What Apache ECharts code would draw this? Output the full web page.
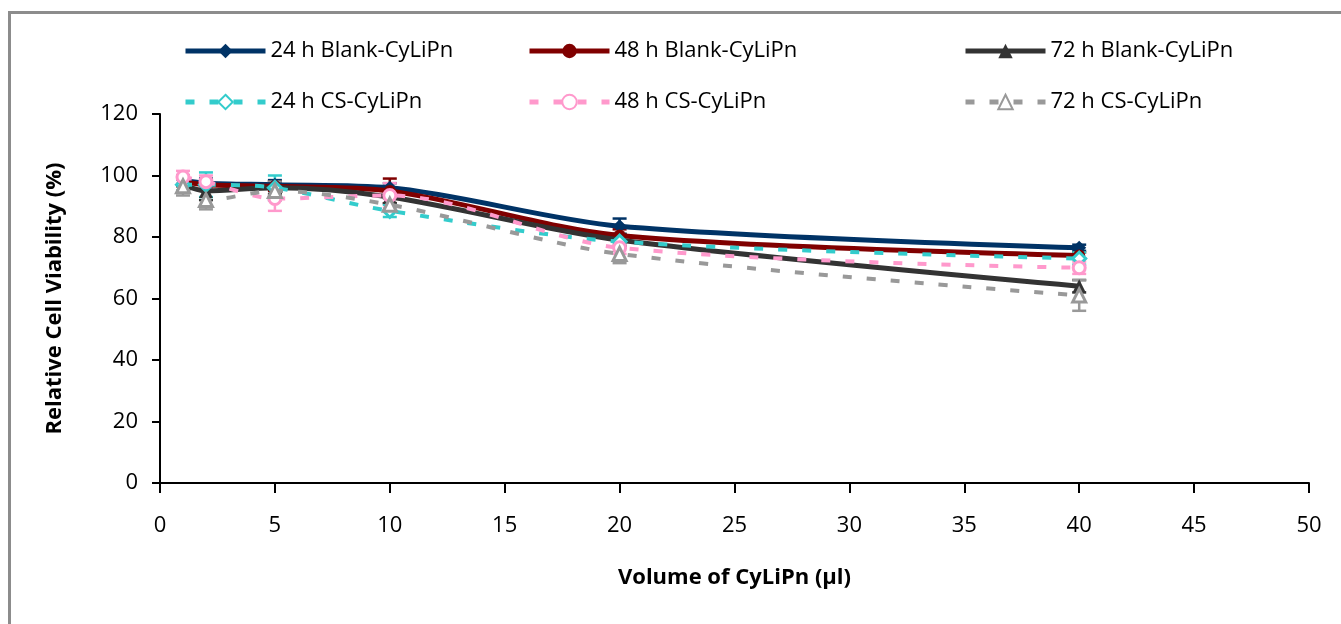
<html>
<head>
<meta http-equiv="Content-Type" content="text/html; charset=utf-8" />
<style type="text/css">
body {margin: 0; background-color: white}
</style>
</head>
<body>
<div id="main" style="width:1341px;height:624px;"></div>
</body>

<script src="https://cdn.jsdelivr.net/npm/echarts@6/dist/echarts.min.js"></script>
<script type="text/javascript">

var myChart = echarts.init(document.getElementById('main'));

// volume of CyLiPn (ul)
var volumes = [1, 2, 5, 10, 20, 40];

// mean viability (%) and error bar half-widths
var blank24 = [98.5, 97.5, 97, 96, 83.5, 76.5];
var blank24Err = [1.5, 1.5, 1.5, 1.5, 2.5, 1];
var blank48 = [98, 97, 96.5, 95, 80.5, 74];
var blank48Err = [1.5, 1.5, 1.5, 4, 2, 1];
var blank72 = [97, 95, 96, 93, 79, 64];
var blank72Err = [2, 3, 2, 2, 2, 2];
var cs24 = [97, 97, 96, 88.5, 78.5, 73];
var cs24Err = [2, 4, 4, 2, 2, 2];
var cs48 = [99.5, 98, 92.5, 93.5, 76.5, 70];
var cs48Err = [2, 2, 4, 4, 2, 2];
var cs72 = [96.5, 92, 95, 90.5, 74.5, 61];
var cs72Err = [3, 3, 3, 2, 3, 5];

var FONT = '"Open Sans", sans-serif';

var defs = [
    {name: '24 h Blank-CyLiPn', vals: blank24, err: blank24Err, color: '#003366', symbol: 'diamond', size: 14, dashed: false, hollow: false},
    {name: '48 h Blank-CyLiPn', vals: blank48, err: blank48Err, color: '#800000', symbol: 'circle', size: 12, dashed: false, hollow: false},
    {name: '72 h Blank-CyLiPn', vals: blank72, err: blank72Err, color: '#333333', symbol: 'triangle', size: 14, dashed: false, hollow: false},
    {name: '24 h CS-CyLiPn', vals: cs24, err: cs24Err, color: '#33cccc', symbol: 'diamond', size: 13, dashed: true, hollow: true},
    {name: '48 h CS-CyLiPn', vals: cs48, err: cs48Err, color: '#ff99cc', symbol: 'circle', size: 12, dashed: true, hollow: true},
    {name: '72 h CS-CyLiPn', vals: cs72, err: cs72Err, color: '#999999', symbol: 'triangle', size: 13, dashed: true, hollow: true}
];

function errorRender(params, api) {
    var x = api.value(0);
    var lo = api.coord([x, api.value(1)]);
    var hi = api.coord([x, api.value(2)]);
    var cap = 7;
    var style = {stroke: api.visual('color'), lineWidth: 2.5};
    return {
        type: 'group',
        children: [
            {type: 'line', shape: {x1: lo[0], y1: lo[1], x2: hi[0], y2: hi[1]}, style: style},
            {type: 'line', shape: {x1: lo[0] - cap, y1: lo[1], x2: lo[0] + cap, y2: lo[1]}, style: style},
            {type: 'line', shape: {x1: hi[0] - cap, y1: hi[1], x2: hi[0] + cap, y2: hi[1]}, style: style}
        ]
    };
}

var series = [];
defs.forEach(function (d) {
    var errData = [];
    for (var i = 0; i < volumes.length; i++) {
        errData.push([volumes[i], d.vals[i] - d.err[i], d.vals[i] + d.err[i]]);
    }
    series.push({
        name: d.name + ' err',
        type: 'custom',
        renderItem: errorRender,
        itemStyle: {color: d.color},
        data: errData,
        silent: true,
        z: 1
    });
});
defs.forEach(function (d, k) {
    var pts = [];
    for (var i = 0; i < volumes.length; i++) {
        pts.push([volumes[i], d.vals[i]]);
    }
    series.push({
        name: d.name,
        type: 'line',
        data: pts,
        smooth: 0.3,
        symbol: d.symbol,
        symbolSize: d.size,
        showAllSymbol: true,
        lineStyle: {color: d.color, width: d.dashed ? 4 : 5, type: d.dashed ? [9, 15] : 'solid'},
        itemStyle: d.hollow ? {color: '#fff', borderColor: d.color, borderWidth: 3} : {color: d.color, borderWidth: 0},
        z: 2 + k
    });
});

function legendCol(left, names) {
    return {
        orient: 'vertical',
        left: left,
        top: 35,
        itemWidth: 80,
        itemHeight: 18,
        itemGap: 29,
        data: names,
        lineStyle: {width: 5},
        textStyle: {fontFamily: FONT, fontSize: 22, color: '#000', padding: [0, 0, 0, 0]}
    };
}

option = {
    backgroundColor: '#fff',
    animation: false,
    graphic: [{
        type: 'rect',
        shape: {x: 9.5, y: 12.5, width: 1400, height: 700},
        style: {fill: 'none', stroke: '#8c8c8c', lineWidth: 3}
    }],
    legend: [
        legendCol(178, ['24 h Blank-CyLiPn', '24 h CS-CyLiPn']),
        legendCol(522, ['48 h Blank-CyLiPn', '48 h CS-CyLiPn']),
        legendCol(958, ['72 h Blank-CyLiPn', '72 h CS-CyLiPn'])
    ],
    grid: {left: 160, right: 32, top: 114, bottom: 141},
    xAxis: {
        type: 'value',
        min: 0,
        max: 50,
        interval: 5,
        name: 'Volume of CyLiPn (µl)',
        nameLocation: 'middle',
        nameGap: 84,
        nameTextStyle: {fontFamily: FONT, fontSize: 22, fontWeight: 'bold', color: '#000'},
        axisLine: {lineStyle: {color: '#000', width: 2}},
        axisTick: {length: 10, lineStyle: {color: '#000', width: 2}},
        axisLabel: {fontFamily: FONT, fontSize: 22, color: '#000', margin: 32},
        splitLine: {show: false}
    },
    yAxis: {
        type: 'value',
        min: 0,
        max: 120,
        interval: 20,
        name: 'Relative Cell Viability (%)',
        nameLocation: 'middle',
        nameGap: 94,
        nameTextStyle: {fontFamily: FONT, fontSize: 22, fontWeight: 'bold', color: '#000'},
        axisLine: {show: true, lineStyle: {color: '#000', width: 2}},
        axisTick: {show: true, length: 8, lineStyle: {color: '#000', width: 2}},
        axisLabel: {fontFamily: FONT, fontSize: 22, color: '#000', margin: 22},
        splitLine: {show: false}
    },
    series: series
};

myChart.setOption(option);
</script>
</html>
